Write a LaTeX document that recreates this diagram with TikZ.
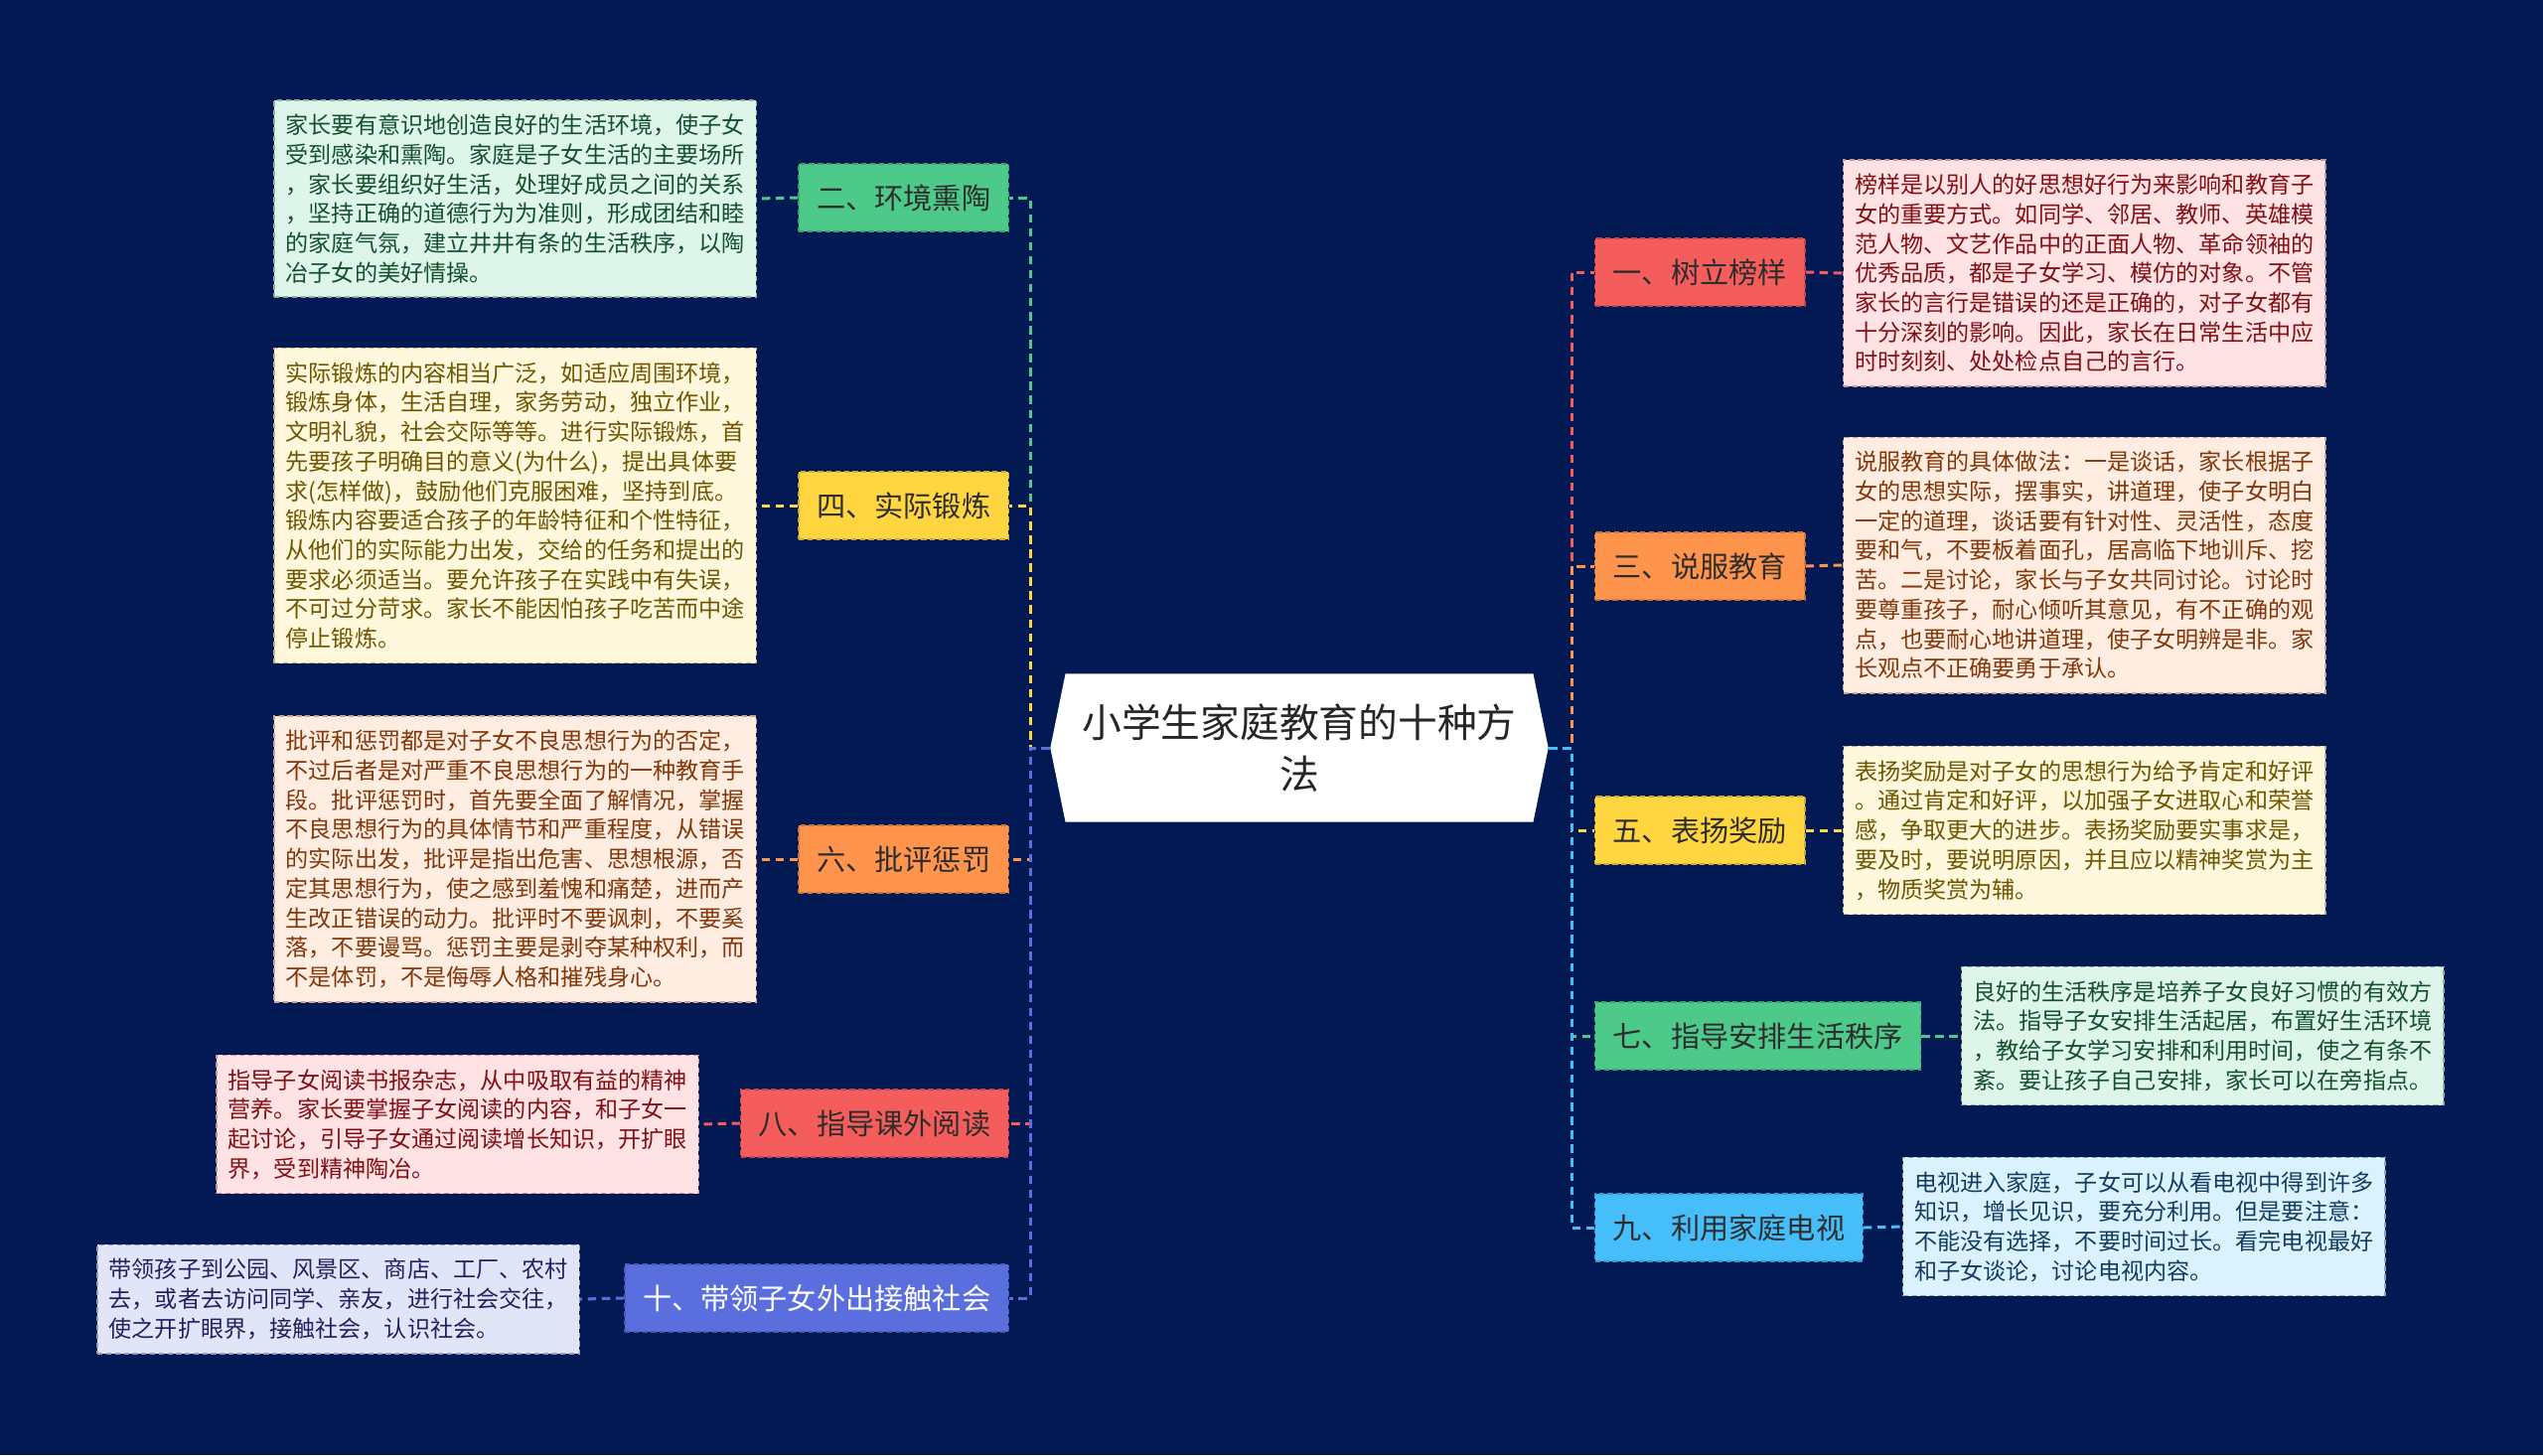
\documentclass[tikz,border=0pt]{standalone}
\usepackage{fontspec}
\setmainfont{Noto Sans CJK SC}
\usepackage{xcolor}
\usetikzlibrary{shapes.symbols}
\usetikzlibrary{math}
\definecolor{mybg}{RGB}{3,25,83}
\definecolor{mygreen}{RGB}{77,201,138}
\definecolor{myyellow}{RGB}{255,214,64}
\definecolor{myorange}{RGB}{255,148,77}
\definecolor{myred}{RGB}{245,93,93}
\definecolor{myindigo}{RGB}{91,110,222}
\definecolor{mysky}{RGB}{69,190,250}
\definecolor{greenfill}{RGB}{222,245,234}
\definecolor{yellowfill}{RGB}{255,248,221}
\definecolor{orangefill}{RGB}{255,237,225}
\definecolor{redfill}{RGB}{255,226,228}
\definecolor{indigofill}{RGB}{226,229,248}
\definecolor{skyfill}{RGB}{218,242,253}
\definecolor{greentext}{RGB}{20,80,45}
\definecolor{yellowtext}{RGB}{110,85,0}
\definecolor{orangetext}{RGB}{130,55,10}
\definecolor{redtext}{RGB}{130,15,20}
\definecolor{indigotext}{RGB}{30,35,95}
\definecolor{skytext}{RGB}{20,60,95}
\definecolor{labeltext}{RGB}{45,45,45}

\begin{document}
\begin{tikzpicture}[x=0.01cm,y=-0.01cm,
  rootbox/.style={shape=signal, signal to=west and east, signal pointer angle=157,
    fill=white, minimum width=5.01cm, minimum height=1.49cm, inner sep=0pt,
    align=center, text=black!85, font=\fontsize{11.3pt}{14.8pt}\selectfont},
  branch/.style={fill=#1, draw=#1!80!black, dash pattern=on 1.5pt off 1pt, line width=0.4pt,
    minimum height=0.68cm, inner xsep=0.18cm, text=labeltext,
    font=\fontsize{8.3pt}{10pt}\selectfont},
  note/.style 2 args={fill=#1, text=#2, draw=#2!45, dash pattern=on 1.5pt off 1pt, line width=0.4pt,
    align=left, inner xsep=0.115cm, inner ysep=4pt,
    font=\fontsize{6.57pt}{8.45pt}\selectfont},
  link/.style={draw=#1, line width=0.85pt, dash pattern=on 2.4pt off 1.6pt}]
\tikzmath{
\busL=1037;%left bus
\busR=1582;%right bus
\midY=753;
}
\fill[mybg] (0,0) rectangle (2560,1465);

\node[rootbox] (root) at (1308,\midY) {小学生家庭教育的十种方\\法};
\coordinate (hubL) at (\busL,\midY);
\coordinate (hubR) at (\busR,\midY);

% left side
\node[branch=mygreen, anchor=east] (L2) at (1016,199) {二、环境熏陶};
\node[branch=myyellow, anchor=east] (L4) at (1016,509) {四、实际锻炼};
\node[branch=myorange, anchor=east] (L6) at (1016,865) {六、批评惩罚};
\node[branch=myred, anchor=east] (L8) at (1016,1131) {八、指导课外阅读};
\node[branch=myindigo, anchor=east, text=white] (L10) at (1016,1307) {十、带领子女外出接触社会};

\node[note={greenfill}{greentext}, anchor=east] (D2) at (762,200) {家长要有意识地创造良好的生活环境，使子女\\受到感染和熏陶。家庭是子女生活的主要场所\\，家长要组织好生活，处理好成员之间的关系\\，坚持正确的道德行为为准则，形成团结和睦\\的家庭气氛，建立井井有条的生活秩序，以陶\\冶子女的美好情操。};
\node[note={yellowfill}{yellowtext}, anchor=east] (D4) at (762,509) {实际锻炼的内容相当广泛，如适应周围环境，\\锻炼身体，生活自理，家务劳动，独立作业，\\文明礼貌，社会交际等等。进行实际锻炼，首\\先要孩子明确目的意义(为什么)，提出具体要\\求(怎样做)，鼓励他们克服困难，坚持到底。\\锻炼内容要适合孩子的年龄特征和个性特征，\\从他们的实际能力出发，交给的任务和提出的\\要求必须适当。要允许孩子在实践中有失误，\\不可过分苛求。家长不能因怕孩子吃苦而中途\\停止锻炼。};
\node[note={orangefill}{orangetext}, anchor=east] (D6) at (762,865) {批评和惩罚都是对子女不良思想行为的否定，\\不过后者是对严重不良思想行为的一种教育手\\段。批评惩罚时，首先要全面了解情况，掌握\\不良思想行为的具体情节和严重程度，从错误\\的实际出发，批评是指出危害、思想根源，否\\定其思想行为，使之感到羞愧和痛楚，进而产\\生改正错误的动力。批评时不要讽刺，不要奚\\落，不要谩骂。惩罚主要是剥夺某种权利，而\\不是体罚，不是侮辱人格和摧残身心。};
\node[note={redfill}{redtext}, anchor=east] (D8) at (704,1132) {指导子女阅读书报杂志，从中吸取有益的精神\\营养。家长要掌握子女阅读的内容，和子女一\\起讨论，引导子女通过阅读增长知识，开扩眼\\界，受到精神陶冶。};
\node[note={indigofill}{indigotext}, anchor=east] (D10) at (584,1308) {带领孩子到公园、风景区、商店、工厂、农村\\去，或者去访问同学、亲友，进行社会交往，\\使之开扩眼界，接触社会，认识社会。};

\draw[link=mygreen] (root.west) -- (hubL) |- (L2.east);
\draw[link=myyellow] (root.west) -- (hubL) |- (L4.east);
\draw[link=myorange] (root.west) -- (hubL) |- (L6.east);
\draw[link=myred] (root.west) -- (hubL) |- (L8.east);
\draw[link=myindigo] (root.west) -- (hubL) |- (L10.east);
\draw[link=mygreen] (L2.west) -- (D2.east);
\draw[link=myyellow] (L4.west) -- (D4.east);
\draw[link=myorange] (L6.west) -- (D6.east);
\draw[link=myred] (L8.west) -- (D8.east);
\draw[link=myindigo] (L10.west) -- (D10.east);

% right side
\node[branch=myred, anchor=west] (R1) at (1605,274) {一、树立榜样};
\node[branch=myorange, anchor=west] (R3) at (1605,570) {三、说服教育};
\node[branch=myyellow, anchor=west] (R5) at (1605,836) {五、表扬奖励};
\node[branch=mygreen, anchor=west] (R7) at (1605,1043) {七、指导安排生活秩序};
\node[branch=mysky, anchor=west] (R9) at (1605,1236) {九、利用家庭电视};

\node[note={redfill}{redtext}, anchor=west] (D1) at (1855,275) {榜样是以别人的好思想好行为来影响和教育子\\女的重要方式。如同学、邻居、教师、英雄模\\范人物、文艺作品中的正面人物、革命领袖的\\优秀品质，都是子女学习、模仿的对象。不管\\家长的言行是错误的还是正确的，对子女都有\\十分深刻的影响。因此，家长在日常生活中应\\时时刻刻、处处检点自己的言行。};
\node[note={orangefill}{orangetext}, anchor=west] (D3) at (1855,569) {说服教育的具体做法：一是谈话，家长根据子\\女的思想实际，摆事实，讲道理，使子女明白\\一定的道理，谈话要有针对性、灵活性，态度\\要和气，不要板着面孔，居高临下地训斥、挖\\苦。二是讨论，家长与子女共同讨论。讨论时\\要尊重孩子，耐心倾听其意见，有不正确的观\\点，也要耐心地讲道理，使子女明辨是非。家\\长观点不正确要勇于承认。};
\node[note={yellowfill}{yellowtext}, anchor=west] (D5) at (1855,836) {表扬奖励是对子女的思想行为给予肯定和好评\\。通过肯定和好评，以加强子女进取心和荣誉\\感，争取更大的进步。表扬奖励要实事求是，\\要及时，要说明原因，并且应以精神奖赏为主\\，物质奖赏为辅。};
\node[note={greenfill}{greentext}, anchor=west] (D7) at (1974,1043) {良好的生活秩序是培养子女良好习惯的有效方\\法。指导子女安排生活起居，布置好生活环境\\，教给子女学习安排和利用时间，使之有条不\\紊。要让孩子自己安排，家长可以在旁指点。};
\node[note={skyfill}{skytext}, anchor=west] (D9) at (1915,1235) {电视进入家庭，子女可以从看电视中得到许多\\知识，增长见识，要充分利用。但是要注意：\\不能没有选择，不要时间过长。看完电视最好\\和子女谈论，讨论电视内容。};

\draw[link=myred] (root.east) -- (hubR) |- (R1.west);
\draw[link=myorange] (root.east) -- (hubR) |- (R3.west);
\draw[link=myyellow] (root.east) -- (hubR) |- (R5.west);
\draw[link=mygreen] (root.east) -- (hubR) |- (R7.west);
\draw[link=mysky] (root.east) -- (hubR) |- (R9.west);
\draw[link=myred] (R1.east) -- (D1.west);
\draw[link=myorange] (R3.east) -- (D3.west);
\draw[link=myyellow] (R5.east) -- (D5.west);
\draw[link=mygreen] (R7.east) -- (D7.west);
\draw[link=mysky] (R9.east) -- (D9.west);
\end{tikzpicture}
\end{document}
